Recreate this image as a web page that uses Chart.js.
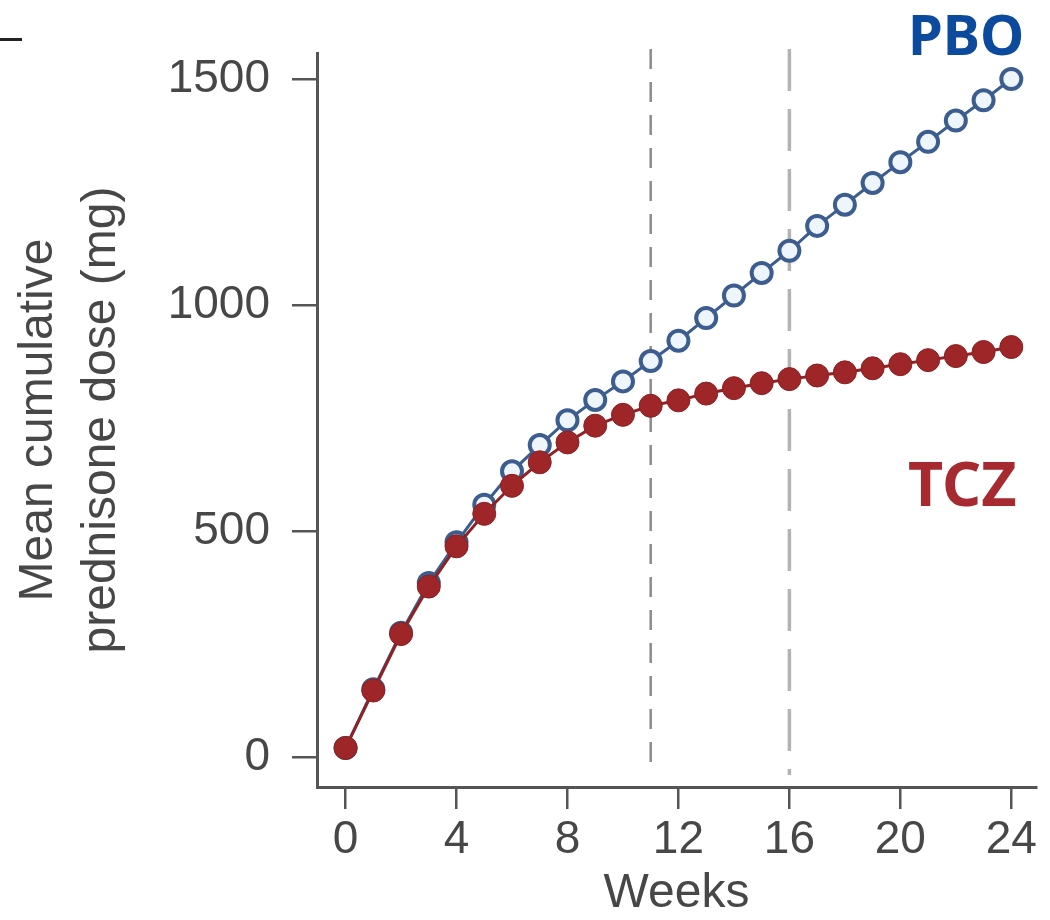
<!DOCTYPE html>
<html>
<head>
<meta charset="utf-8">
<script src="https://cdn.jsdelivr.net/npm/chart.js@4.4.1/dist/chart.umd.min.js"></script>
<style>
html,body{margin:0;padding:0;background:#fff;}
#wrap{position:relative;width:1050px;height:920px;overflow:hidden;}
canvas{display:block;}
.lbl{position:absolute;font-family:"Noto Sans",sans-serif;font-weight:700;line-height:1;white-space:nowrap;}
#mark{position:absolute;left:0;top:38px;width:22px;height:3px;background:#222;}
</style>
</head>
<body>
<div id="wrap">
  <canvas id="c" width="1050" height="920"></canvas>
  <div id="mark"></div>
  <div class="lbl" id="pboLbl" style="color:#0b4a9c;left:908px;top:5px;font-size:56px;">PBO</div>
  <div class="lbl" id="tczLbl" style="color:#a62a2f;left:908px;top:452px;font-size:61px;">TCZ</div>
</div>
<script>
// ---- data ----
const weeks = [0,1,2,3,4,5,6,7,8,9,10,11,12,13,14,15,16,17,18,19,20,21,22,23,24];
const tczDose = [20,147,272,377,466,538,600,652,696,733,757,777,789,804,816,827,836,844,851,860,869,878,887,896,907];
const pboDose = [20,150,275,385,475,558,632,690,745,790,831,876,921,971,1021,1071,1120,1175,1222,1270,1316,1361,1408,1453,1500];
const xTickValues = [0,4,8,12,16,20,24];
const yTickValues = [0,500,1000,1500];
const markerWeeks = [11,16];
const xTitle = 'Weeks';
const yTitle = ['Mean cumulative','prednisone dose (mg)'];
const seriesNames = ['TCZ','PBO'];

const FONT = '"Liberation Sans", Arial, Helvetica, sans-serif';
const TXT = '#474747';
const AX = '#555555';

const markerStyles = [
  {color:'#8c8c8c', width:2.5, dash:[20,13]},
  {color:'#b3b3b3', width:3.5, dash:[42,18]}
];

const refLines = {
  id:'refLines',
  beforeDatasetsDraw(chart){
    const {ctx, chartArea, scales:{x}} = chart;
    markerWeeks.forEach((w,i)=>{
      const st = markerStyles[i];
      const px = x.getPixelForValue(w);
      ctx.save();
      ctx.strokeStyle = st.color;
      ctx.lineWidth = st.width;
      ctx.setLineDash(st.dash);
      ctx.beginPath();
      ctx.moveTo(px, chartArea.top - 4);
      ctx.lineTo(px, chartArea.bottom - 12);
      ctx.stroke();
      ctx.restore();
    });
  }
};

const toPts = arr => weeks.map((w,i)=>({x:w, y:arr[i]}));

new Chart(document.getElementById('c'), {
  type:'line',
  data:{
    datasets:[
      {
        label: seriesNames[0],
        data: toPts(tczDose),
        borderColor:'#8e2224',
        borderWidth:3,
        backgroundColor:'#9e2628',
        pointBackgroundColor:'#9e2628',
        pointBorderColor:'#8a2022',
        pointBorderWidth:1,
        pointRadius:11.5,
        tension:0,
        clip:false
      },
      {
        label: seriesNames[1],
        data: toPts(pboDose),
        borderColor:'#3b5d8f',
        borderWidth:3,
        backgroundColor:'#eef5fc',
        pointBackgroundColor:'#eef5fc',
        pointBorderColor:'#3b5d8f',
        pointBorderWidth:4,
        pointRadius:10,
        tension:0,
        clip:false
      }
    ]
  },
  options:{
    responsive:false,
    devicePixelRatio:1,
    animation:false,
    layout:{padding:{top:53,right:4,left:0,bottom:0}},
    plugins:{legend:{display:false}, tooltip:{enabled:false}},
    scales:{
      x:{
        type:'linear',
        min:-1.03,
        max:24.89,
        afterBuildTicks:s=>{ s.ticks = xTickValues.map(v=>({value:v})); },
        afterFit:s=>{ s.height = 133; },
        grid:{drawOnChartArea:false, drawTicks:true, tickLength:22, color:AX, lineWidth:2.5},
        border:{display:true, color:AX, width:3},
        ticks:{font:{family:FONT, size:46}, color:TXT, padding:4, maxRotation:0, autoSkip:false, callback:v=>String(v)},
        title:{display:true, text:xTitle, color:TXT, font:{family:FONT, size:48, lineHeight:1.1}, padding:{top:0,bottom:0}}
      },
      y:{
        type:'linear',
        min:-66.4,
        max:1557.5,
        afterBuildTicks:s=>{ s.ticks = yTickValues.map(v=>({value:v})); },
        afterFit:s=>{ s.width = 317; },
        grid:{drawOnChartArea:false, drawTicks:true, tickLength:25, color:AX, lineWidth:2.5},
        border:{display:true, color:AX, width:3},
        ticks:{font:{family:FONT, size:46}, color:TXT, padding:22, autoSkip:false, callback:v=>String(v)},
        title:{display:true, text:yTitle, color:TXT, font:{family:FONT, size:48, lineHeight:1.3}, padding:{top:8,bottom:0}}
      }
    }
  },
  plugins:[refLines]
});
</script>
</body>
</html>
